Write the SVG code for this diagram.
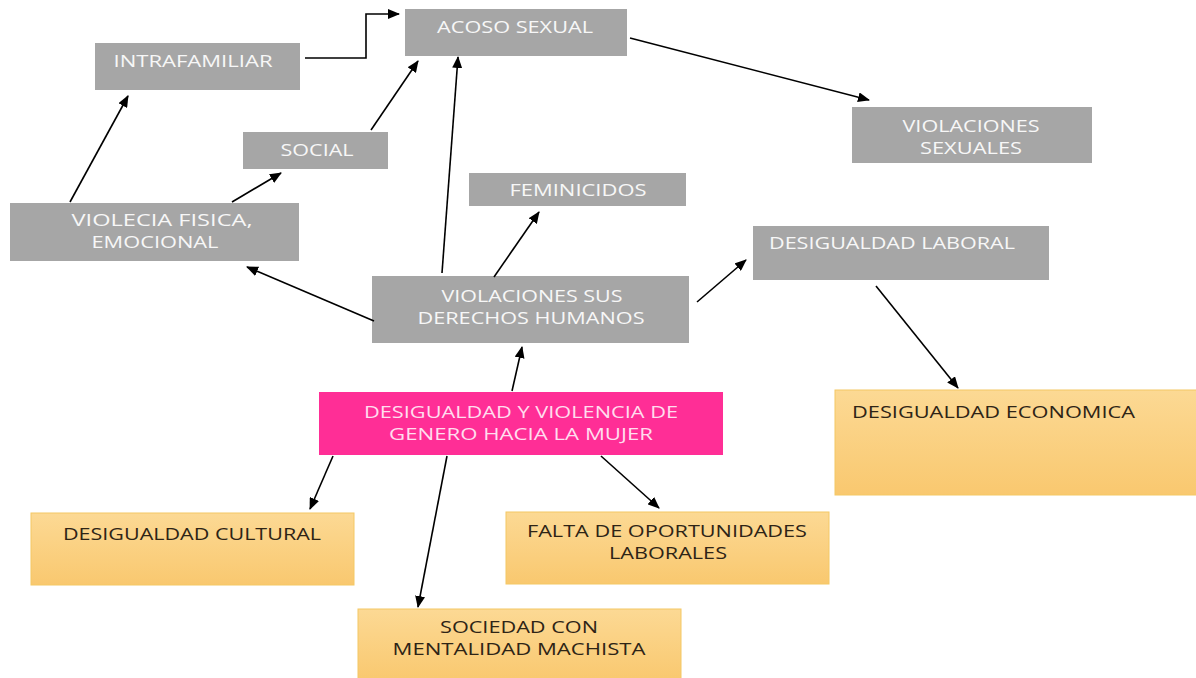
<svg xmlns="http://www.w3.org/2000/svg" width="1196" height="678" viewBox="0 0 1196 678">
<style>
.g{fill:#A6A6A6}
.o{fill:url(#og);stroke:#F4C864;stroke-width:1}
.p{fill:#FF2E96}
.t{font-family:"Open Sans","Liberation Sans",sans-serif;font-size:17px;text-anchor:middle}
.w{fill:#F7F7F7}
.d{fill:#2E2416}
.pk{fill:#FFDDEE}
.c line,.c path{stroke:#000;stroke-width:1.6;fill:none;marker-end:url(#ah)}
</style>
<defs>
<linearGradient id="og" x1="0" y1="0" x2="0" y2="1">
<stop offset="0" stop-color="#FCD994"/>
<stop offset="1" stop-color="#F9C86F"/>
</linearGradient>
<marker id="ah" markerWidth="12" markerHeight="10" refX="11" refY="5" orient="auto" markerUnits="userSpaceOnUse">
<path d="M0,0 L12,5 L0,10 z" fill="#000"/>
</marker>
</defs>
<rect width="1196" height="678" fill="#fff"/>
<g id="acoso"><rect class="g" x="405" y="9" width="222" height="47"/><text class="t w" x="515" y="33" textLength="156" lengthAdjust="spacingAndGlyphs">ACOSO SEXUAL</text></g>
<g id="intrafamiliar"><rect class="g" x="95" y="43" width="205" height="47"/><text class="t w" x="193" y="67" textLength="159" lengthAdjust="spacingAndGlyphs">INTRAFAMILIAR</text></g>
<g id="social"><rect class="g" x="243" y="132" width="145" height="37"/><text class="t w" x="317" y="156" textLength="73" lengthAdjust="spacingAndGlyphs">SOCIAL</text></g>
<g id="feminicidos"><rect class="g" x="469" y="173" width="217" height="33"/><text class="t w" x="578" y="196" textLength="137" lengthAdjust="spacingAndGlyphs">FEMINICIDOS</text></g>
<g id="violaciones-sexuales"><rect class="g" x="852" y="107" width="240" height="56"/><text class="t w" x="971" y="132" textLength="137" lengthAdjust="spacingAndGlyphs">VIOLACIONES</text><text class="t w" x="971" y="154" textLength="102" lengthAdjust="spacingAndGlyphs">SEXUALES</text></g>
<g id="desigualdad-laboral"><rect class="g" x="753" y="226" width="296" height="54"/><text class="t w" x="892" y="249" textLength="246" lengthAdjust="spacingAndGlyphs">DESIGUALDAD LABORAL</text></g>
<g id="violencia-fisica"><rect class="g" x="10" y="203" width="289" height="58"/><text class="t w" x="162" y="226" textLength="181" lengthAdjust="spacingAndGlyphs">VIOLECIA FISICA,</text><text class="t w" x="155" y="248" textLength="127" lengthAdjust="spacingAndGlyphs">EMOCIONAL</text></g>
<g id="derechos-humanos"><rect class="g" x="372" y="276" width="317" height="67"/><text class="t w" x="532" y="302" textLength="181" lengthAdjust="spacingAndGlyphs">VIOLACIONES SUS</text><text class="t w" x="531" y="324" textLength="227" lengthAdjust="spacingAndGlyphs">DERECHOS HUMANOS</text></g>
<g id="desigualdad-violencia"><rect class="p" x="319" y="392" width="404" height="63"/><text class="t pk" x="521" y="418" textLength="314" lengthAdjust="spacingAndGlyphs">DESIGUALDAD Y VIOLENCIA DE</text><text class="t pk" x="521" y="440" textLength="264" lengthAdjust="spacingAndGlyphs">GENERO HACIA LA MUJER</text></g>
<g id="desigualdad-cultural"><rect class="o" x="31" y="513" width="323" height="72"/><text class="t d" x="192" y="540" textLength="258" lengthAdjust="spacingAndGlyphs">DESIGUALDAD CULTURAL</text></g>
<g id="falta-oportunidades"><rect class="o" x="506" y="512" width="323" height="72"/><text class="t d" x="667" y="537" textLength="280" lengthAdjust="spacingAndGlyphs">FALTA DE OPORTUNIDADES</text><text class="t d" x="668" y="559" textLength="118" lengthAdjust="spacingAndGlyphs">LABORALES</text></g>
<g id="sociedad-machista"><rect class="o" x="358" y="609" width="323" height="72"/><text class="t d" x="519" y="633" textLength="158" lengthAdjust="spacingAndGlyphs">SOCIEDAD CON</text><text class="t d" x="519" y="655" textLength="253" lengthAdjust="spacingAndGlyphs">MENTALIDAD MACHISTA</text></g>
<g id="desigualdad-economica"><rect class="o" x="835" y="390" width="362" height="105"/><text class="t d" x="852" y="418" style="text-anchor:start" textLength="283" lengthAdjust="spacingAndGlyphs">DESIGUALDAD ECONOMICA</text></g>
<g id="connectors" class="c">
<path d="M305,58 H366 V14 H399"/>
<line x1="371" y1="130" x2="418" y2="61"/>
<line x1="442" y1="273" x2="458" y2="57"/>
<line x1="70" y1="202" x2="128" y2="96"/>
<line x1="232" y1="202" x2="281" y2="173"/>
<line x1="630" y1="38" x2="869" y2="100"/>
<line x1="494" y1="277" x2="539" y2="212"/>
<line x1="374" y1="321" x2="247" y2="267"/>
<line x1="697" y1="302" x2="746" y2="260"/>
<line x1="512" y1="391" x2="522" y2="347"/>
<line x1="876" y1="286" x2="958" y2="388"/>
<line x1="333" y1="456" x2="310" y2="509"/>
<line x1="447" y1="456" x2="418" y2="607"/>
<line x1="601" y1="456" x2="659" y2="508"/>
</g>
</svg>
